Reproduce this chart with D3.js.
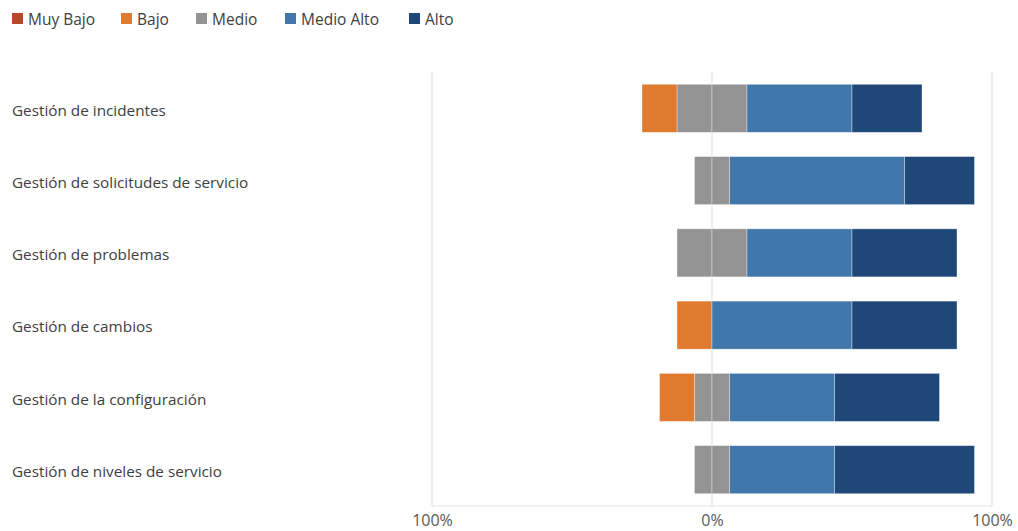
<!DOCTYPE html>
<html>
<head>
<meta charset="utf-8">
<script src="https://cdn.jsdelivr.net/npm/d3@7/dist/d3.min.js"></script>
<style>
  html, body { margin: 0; padding: 0; background: #fff; }
  svg { display: block; font-family: "Open Sans", "Noto Sans", sans-serif; }
</style>
</head>
<body>
<svg id="chart" width="1018" height="531"></svg>
<script>
// Survey results per ITIL process (% of respondents in each level)
const categories = [
  "Gestión de incidentes",
  "Gestión de solicitudes de servicio",
  "Gestión de problemas",
  "Gestión de cambios",
  "Gestión de la configuración",
  "Gestión de niveles de servicio"
];
const levels = ["Muy Bajo", "Bajo", "Medio", "Medio Alto", "Alto"];
const muyBajo   = [0, 0, 0, 0, 0, 0];
const bajo      = [12.5, 0, 0, 12.5, 12.5, 0];
const medio     = [25, 12.5, 25, 0, 12.5, 12.5];
const medioAlto = [37.5, 62.5, 37.5, 50, 37.5, 37.5];
const alto      = [25, 25, 37.5, 37.5, 37.5, 50];
const xTicks = [-100, 0, 100];

const colors = {
  "Muy Bajo": "#b8482a",
  "Bajo": "#df7a2f",
  "Medio": "#939393",
  "Medio Alto": "#4277ab",
  "Alto": "#1f4878"
};

const svg = d3.select("#chart");
const plot = { left: 432, right: 992, top: 72, bottom: 506 };

const x = d3.scaleLinear().domain([-100, 100]).range([plot.left, plot.right]);
const y = d3.scaleBand().domain(categories).range([plot.top, plot.bottom]).paddingInner(0.335).paddingOuter(0.17);

// Gridlines at each tick
svg.append("g")
  .selectAll("line")
  .data(xTicks)
  .join("line")
  .attr("x1", d => x(d)).attr("x2", d => x(d))
  .attr("y1", plot.top).attr("y2", plot.bottom)
  .attr("stroke", "#e3e3e3").attr("stroke-width", 1.2);

// Build diverging segments: Medio is split across zero
const segments = [];
categories.forEach((c, i) => {
  let neg = -medio[i] / 2;
  let pos = medio[i] / 2;
  if (medio[i] > 0) {
    segments.push({ cat: c, level: "Medio", x0: neg, x1: 0 });
    segments.push({ cat: c, level: "Medio", x0: 0, x1: pos });
  }
  [["Bajo", bajo[i]], ["Muy Bajo", muyBajo[i]]].forEach(([lv, v]) => {
    if (v > 0) { segments.push({ cat: c, level: lv, x0: neg - v, x1: neg }); neg -= v; }
  });
  [["Medio Alto", medioAlto[i]], ["Alto", alto[i]]].forEach(([lv, v]) => {
    if (v > 0) { segments.push({ cat: c, level: lv, x0: pos, x1: pos + v }); pos += v; }
  });
});

svg.append("g")
  .selectAll("rect")
  .data(segments)
  .join("rect")
  .attr("x", d => x(d.x0))
  .attr("width", d => x(d.x1) - x(d.x0))
  .attr("y", d => y(d.cat))
  .attr("height", y.bandwidth())
  .attr("fill", d => colors[d.level])
  .attr("stroke", "rgba(255,255,255,0.45)")
  .attr("stroke-width", 0.8);

// Bottom axis line
svg.append("line")
  .attr("x1", plot.left).attr("x2", plot.right)
  .attr("y1", plot.bottom).attr("y2", plot.bottom)
  .attr("stroke", "#e3e3e3").attr("stroke-width", 1.2);

// X axis labels
const xAxis = d3.axisBottom(x).tickValues(xTicks).tickFormat(d => Math.abs(d) + "%").tickSize(0).tickPadding(9);
const gx = svg.append("g").attr("transform", `translate(0,${plot.bottom})`).call(xAxis);
gx.select(".domain").remove();
gx.selectAll("text").attr("font-size", 16).attr("fill", "#595959").attr("font-family", "Open Sans, Noto Sans, sans-serif");

// Category labels
svg.append("g")
  .selectAll("text")
  .data(categories)
  .join("text")
  .attr("x", 12)
  .attr("y", d => y(d) + y.bandwidth() / 2 + 2)
  .attr("dy", "0.35em")
  .attr("font-size", 15.3)
  .attr("fill", "#404040")
  .text(d => d);

// Legend
const legendX = [12, 121, 196, 285, 409];
const lg = svg.append("g")
  .selectAll("g")
  .data(levels)
  .join("g")
  .attr("transform", (d, i) => `translate(${legendX[i]},0)`);
lg.append("rect")
  .attr("x", 0).attr("y", 13).attr("width", 11).attr("height", 11)
  .attr("fill", d => colors[d]);
lg.append("text")
  .attr("x", 16).attr("y", 20).attr("dy", "0.35em")
  .attr("font-size", 15.5).attr("fill", "#404040")
  .text(d => d);
</script>
</body>
</html>
